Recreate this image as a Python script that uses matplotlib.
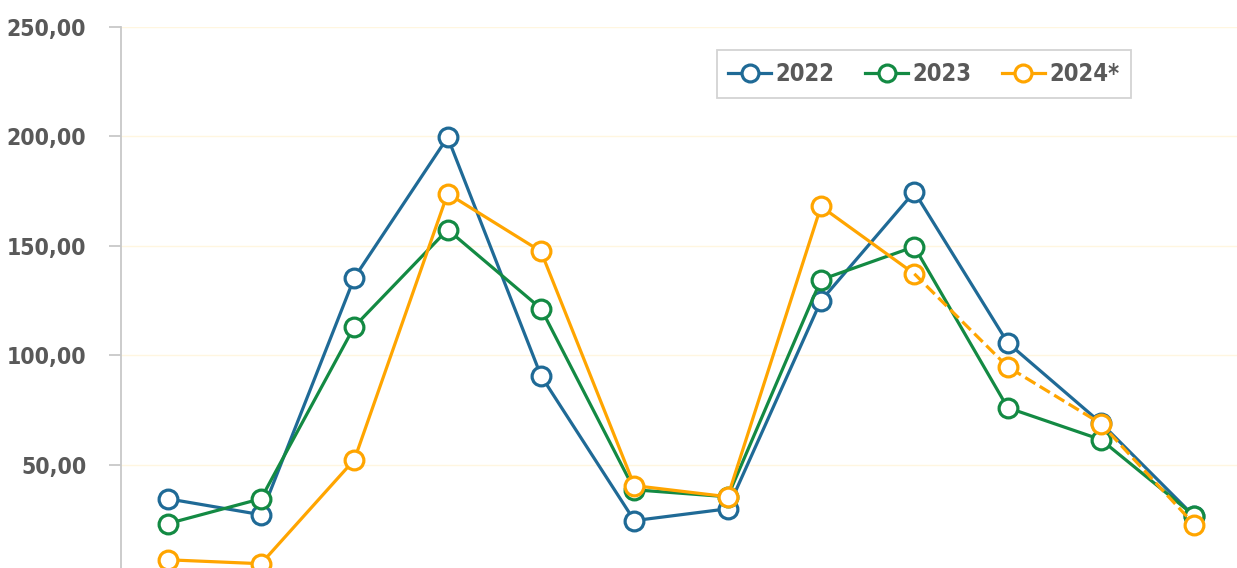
import matplotlib.pyplot as plt
import numpy as np

# monthly values per year (2024 last three months are provisional)
months = np.arange(12)
v2022 = [34.4, 27.1, 135.4, 199.6, 90.6, 24.4, 29.8, 124.9, 174.7, 105.7, 69.0, 26.3]
v2023 = [23.0, 34.4, 113.1, 157.4, 121.3, 38.5, 35.3, 134.5, 149.6, 76.0, 61.4, 26.6]
v2024 = [6.5, 4.7, 52.2, 173.9, 147.4, 40.4, 35.3, 168.0, 137.2, 94.7, 68.7, 22.6]
n_final = 9  # points of 2024 that are definitive

c22 = '#1F6A96'
c23 = '#138A43'
c24 = '#FFA500'
grey = '#595959'
fprops = dict(family='DejaVu Sans', stretch='condensed', weight='bold')

fig = plt.figure(figsize=(12.37, 5.68), dpi=100)
ax = fig.add_axes([121 / 1237, -6 / 568, 1120 / 1237, 547 / 568])

mk = dict(marker='o', markersize=13.5, markerfacecolor='white', markeredgewidth=2.3, lw=2.3)
ax.plot(months, v2022, color=c22, label='2022', **mk)
ax.plot(months, v2023, color=c23, label='2023', **mk)
ax.plot(months[:n_final], v2024[:n_final], color=c24, label='2024*', **mk)
ax.plot(months[n_final - 1:], v2024[n_final - 1:], color=c24, ls='--', lw=2.3, zorder=2)
ax.plot(months[n_final:], v2024[n_final:], ls='none', marker='o', markersize=13.5,
        markerfacecolor='white', markeredgecolor=c24, markeredgewidth=2.3, zorder=2)

ax.set_xlim(-0.5, 11.5)
ax.set_ylim(0, 250)
ax.set_yticks([50, 100, 150, 200, 250])
ax.set_yticklabels(['50,00', '100,00', '150,00', '200,00', '250,00'],
                   fontsize=16.5, color=grey, **fprops)
ax.set_xticks([])
ax.grid(axis='y', color='#FFF6E0', lw=1)
ax.set_axisbelow(True)
for s in ['top', 'right', 'bottom']:
    ax.spines[s].set_visible(False)
ax.spines['left'].set_color('#C8C8C8')
ax.spines['left'].set_linewidth(1.3)
ax.tick_params(axis='y', length=9, color='#C8C8C8', width=1.3, pad=16)

leg = ax.legend(loc='upper center', bbox_to_anchor=(803 / 1120, 1 - 23 / 547), ncol=3,
                frameon=True, fancybox=False, edgecolor='#C8C8C8',
                prop=dict(size=17, **fprops),
                handlelength=1.8, columnspacing=1.3, handletextpad=0.2,
                borderpad=0.5, borderaxespad=0, markerscale=0.9)
leg.get_frame().set_linewidth(1.3)
for t in leg.get_texts():
    t.set_color(grey)

fig.savefig('out.png', dpi=100)
